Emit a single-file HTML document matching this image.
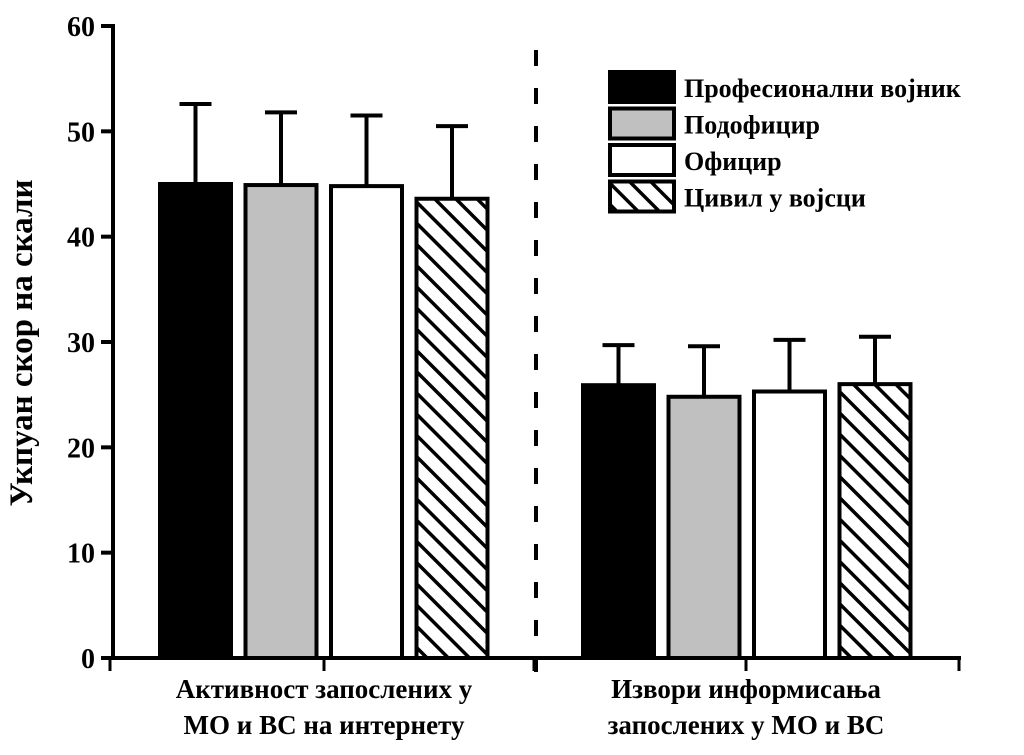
<!DOCTYPE html>
<html><head><meta charset="utf-8"><style>
body{margin:0;background:#fff}
svg text{font-family:"Liberation Serif",serif;font-weight:bold;fill:#000}
</style></head><body>
<svg id="chart" width="1024" height="750" viewBox="0 0 1024 750" xmlns="http://www.w3.org/2000/svg">
<defs><pattern id="hatch" patternUnits="userSpaceOnUse" width="15" height="15" patternTransform="rotate(-45)"><rect width="15" height="15" fill="#fff"/><line x1="0" y1="0" x2="0" y2="15" stroke="#000" stroke-width="7"/></pattern></defs>
<g id="plot"></g>
<text transform="translate(32,343) rotate(-90)" text-anchor="middle" font-size="33">Укпуан скор на скали</text>
<text x="324" y="698" text-anchor="middle" font-size="27">Активност запослених у</text>
<text x="324" y="734" text-anchor="middle" font-size="27">МО и ВС на интернету</text>
<text x="746" y="698" text-anchor="middle" font-size="27">Извори информисања</text>
<text x="746" y="734" text-anchor="middle" font-size="27">запослених у МО и ВС</text>
</svg>
<script>
const categories=["Активност","Извори"];
const series=["Професионални војник","Подофицир","Официр","Цивил у војсци"];
const means=[[45.0,44.9,44.8,43.6],[25.9,24.8,25.3,26.0]];
const errs=[[7.6,6.9,6.7,6.9],[3.8,4.8,4.9,4.5]];
const yTicks=[0,10,20,30,40,50,60];
const fills=["#000","#c0c0c0","#fff","url(#hatch)"];
const NS="http://www.w3.org/2000/svg";
const g=document.getElementById('plot');
const y=v=>658-v*(632/60);
const groupStart=[160,583], barStep=85.5, barW=71;
function mk(t,a){const e=document.createElementNS(NS,t);for(const k in a)e.setAttribute(k,a[k]);g.appendChild(e);return e;}
let ax=mk('line',{x1:113,y1:658,x2:113,y2:24,stroke:'#000','stroke-width':4});


let xa=mk('line',{x1:108,y1:658,x2:961,y2:658,stroke:'#000','stroke-width':4});


[110,324,534,746,959].forEach(x=>{const t=mk('line',{x1:x,y1:658,x2:x,y2:671,stroke:'#000','stroke-width':3});

});
yTicks.forEach(v=>{const t=mk('line',{x1:101,y1:y(v),x2:113,y2:y(v),stroke:'#000','stroke-width':4});


const l=mk('text',{x:95,y:y(v)+10,'text-anchor':'end','font-size':28});l.textContent=v;

});
const dl=mk('line',{x1:536,y1:50,x2:536,y2:672,stroke:'#000','stroke-width':4,'stroke-dasharray':'16,22'});


categories.forEach((c,gi)=>{series.forEach((s,si)=>{
const x=groupStart[gi]+si*barStep, cx=x+barW/2, m=means[gi][si], et=m+errs[gi][si];
const eb=mk('line',{x1:cx,y1:y(m),x2:cx,y2:y(et),stroke:'#000','stroke-width':4});


const ec=mk('line',{x1:cx-16,y1:y(et),x2:cx+16,y2:y(et),stroke:'#000','stroke-width':4});


const r=mk('rect',{x:x,y:y(m),width:barW,height:658-y(m),fill:fills[si],stroke:'#000','stroke-width':4});


});});
series.forEach((s,i)=>{const yy=72+i*36.5;
const r=mk('rect',{x:610,y:yy,width:64,height:30,fill:fills[i],stroke:'#000','stroke-width':4});


const t=mk('text',{x:684,y:yy+25,'font-size':26});t.textContent=s;

});
</script>
</body></html>
